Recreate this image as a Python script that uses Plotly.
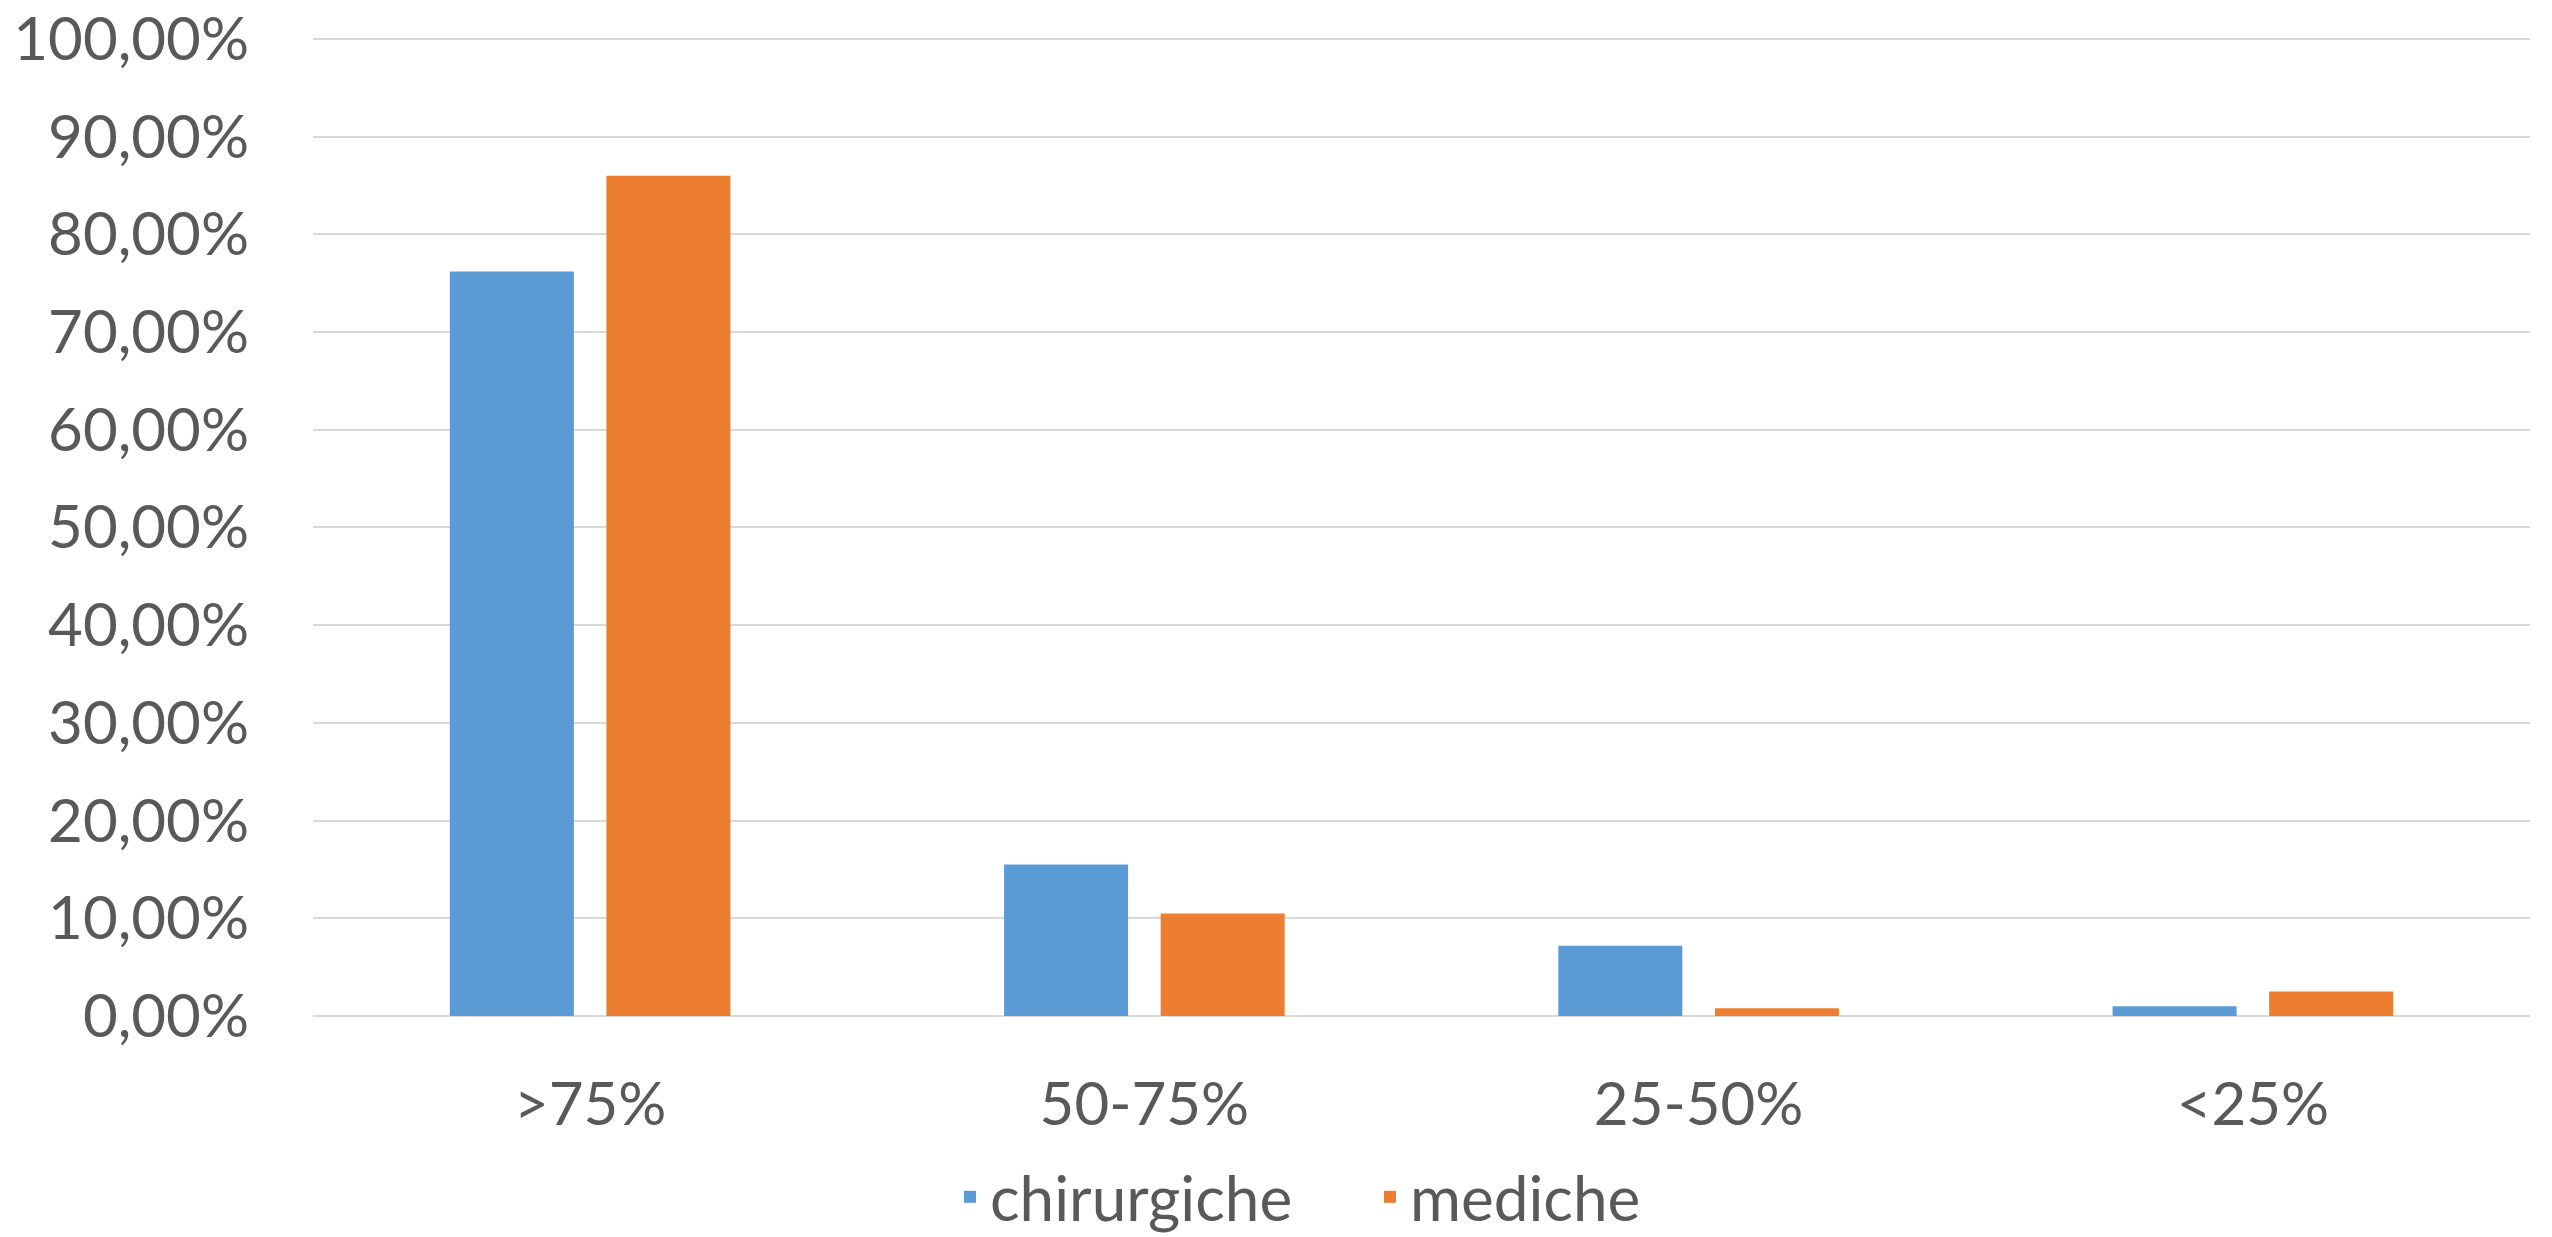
import plotly.graph_objects as go

categories = [">75%", "50-75%", "25-50%", "<25%"]
chirurgiche = [0.762, 0.155, 0.072, 0.010]
mediche = [0.860, 0.105, 0.008, 0.025]
series_names = ["chirurgiche", "mediche"]
colors = ["#5B9BD5", "#ED7D31"]
y_ticks = [0.0, 0.1, 0.2, 0.3, 0.4, 0.5, 0.6, 0.7, 0.8, 0.9, 1.0]

FONT = "Lato"
TXT = "#595959"
FS = 60

fig = go.Figure()
for name, vals, col in zip(series_names, [chirurgiche, mediche], colors):
    fig.add_trace(go.Bar(x=categories, y=vals, name=name, marker_color=col,
                         marker_line_width=0))

fig.update_layout(
    width=2552, height=1237,
    paper_bgcolor="white", plot_bgcolor="white",
    separators=",.",
    barmode="group", bargap=0.435, bargroupgap=0.208,
    margin=dict(l=313, r=22, t=37, b=221, autoexpand=False),
    font=dict(family=FONT, size=FS, color=TXT),
    showlegend=True,
    legend=dict(orientation="h", xref="container", yref="container",
                x=950 / 2552, xanchor="left",
                y=1 - 1197 / 1237, yanchor="middle",
                font=dict(family=FONT, size=62, color=TXT),
                itemwidth=30, entrywidth=375, traceorder="normal"),
)
fig.update_yaxes(range=[0, 1.002], tickmode="array", tickvals=y_ticks,
                 tickformat=".2%", showgrid=True,
                 gridcolor="#D9D9D9", gridwidth=2, zeroline=True, zerolinecolor="#D9D9D9",
                 zerolinewidth=2, showline=False, ticks="", ticklabelstandoff=63,
                 tickfont=dict(family=FONT, size=FS, color=TXT), fixedrange=True)
fig.update_xaxes(showgrid=False, showline=False, ticks="", ticklabelstandoff=48,
                 tickfont=dict(family=FONT, size=FS, color=TXT))

fig.write_html("out.html", config={"displayModeBar": False},
               post_script="document.body.style.margin='0';")
